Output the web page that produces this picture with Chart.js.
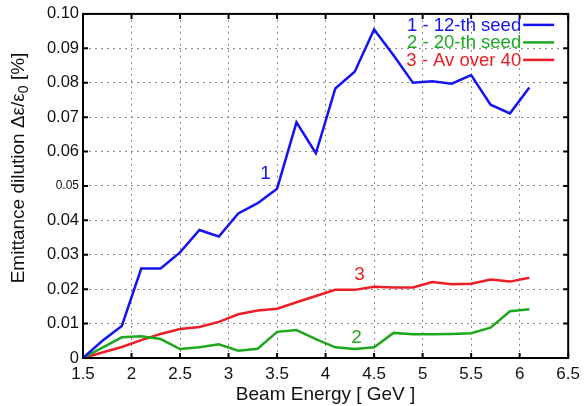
<!DOCTYPE html>
<html>
<head>
<meta charset="utf-8">
<script src="https://cdn.jsdelivr.net/npm/chart.js@4.4.1/dist/chart.umd.min.js"></script>
<style>
  html, body { margin: 0; padding: 0; background: #fff; }
  #wrap { width: 586px; height: 406px; }
</style>
</head>
<body>
<div id="wrap"><canvas id="myChart" width="586" height="406"></canvas></div>
<script>
// beam energy points [GeV]
const energy = [1.5, 1.7, 1.9, 2.1, 2.3, 2.5, 2.7, 2.9, 3.1, 3.3, 3.5, 3.7, 3.9, 4.1, 4.3, 4.5, 4.7, 4.9, 5.1, 5.3, 5.5, 5.7, 5.9, 6.1];
// emittance dilution [%]
const seed12 = [0, 0.005, 0.0093, 0.026, 0.026, 0.0307, 0.0372, 0.0353, 0.042, 0.045, 0.0492, 0.0685, 0.0595, 0.0783, 0.0832, 0.0955, 0.088, 0.0800, 0.0804, 0.0797, 0.0822, 0.0736, 0.0711, 0.0786];
const seed20 = [0, 0.003, 0.006, 0.0063, 0.0055, 0.0026, 0.0031, 0.004, 0.0021, 0.0027, 0.0076, 0.0081, 0.0055, 0.0031, 0.0026, 0.0031, 0.0073, 0.0069, 0.0069, 0.007, 0.0072, 0.0088, 0.0136, 0.0142];
const avg40 = [0, 0.0016, 0.0032, 0.0052, 0.007, 0.0084, 0.009, 0.0105, 0.0127, 0.0138, 0.0143, 0.0162, 0.018, 0.0198, 0.0198, 0.0207, 0.0205, 0.0205, 0.0221, 0.0214, 0.0216, 0.0228, 0.0222, 0.0233];

const seriesNames = ['1 - 12-th seed', '2 - 20-th seed', '3 - Av over 40'];
const seriesColors = ['#1414f0', '#1ea81e', '#ee1c24'];
const curveLabels = [['1', 3.38, 0.0535], ['2', 4.32, 0.0058], ['3', 4.35, 0.0241]];

const xTicks = [1.5, 2, 2.5, 3, 3.5, 4, 4.5, 5, 5.5, 6, 6.5];
const yTicks = [0, 0.01, 0.02, 0.03, 0.04, 0.05, 0.06, 0.07, 0.08, 0.09, 0.10];

const FONT = 'Arial, "Liberation Sans", sans-serif';

function toPoints(ys) {
    return energy.map((x, i) => ({x: x, y: ys[i]}));
}

// box, inner ticks, legend and curve labels
const decor = {
    id: 'decor',
    afterDatasetsDraw(chart) {
        const ctx = chart.ctx;
        const a = chart.chartArea;
        const xs = chart.scales.x, ys = chart.scales.y;
        ctx.save();
        ctx.strokeStyle = '#000';
        ctx.lineWidth = 2;
        ctx.strokeRect(a.left, a.top, a.right - a.left, a.bottom - a.top);
        ctx.beginPath();
        xTicks.forEach(v => {
            const px = xs.getPixelForValue(v);
            ctx.moveTo(px, a.bottom); ctx.lineTo(px, a.bottom - 5);
            ctx.moveTo(px, a.top); ctx.lineTo(px, a.top + 5);
        });
        yTicks.forEach(v => {
            const py = ys.getPixelForValue(v);
            ctx.moveTo(a.left, py); ctx.lineTo(a.left + 5, py);
            ctx.moveTo(a.right, py); ctx.lineTo(a.right - 5, py);
        });
        ctx.stroke();

        // legend
        ctx.font = '18.5px ' + FONT;
        ctx.textAlign = 'right';
        ctx.textBaseline = 'middle';
        seriesNames.forEach((name, i) => {
            const y = a.top + 11 + i * 17.5;
            ctx.fillStyle = seriesColors[i];
            ctx.fillText(name, a.right - 47, y + 1);
            ctx.strokeStyle = seriesColors[i];
            ctx.lineWidth = 2.5;
            ctx.beginPath();
            ctx.moveTo(a.right - 45, y);
            ctx.lineTo(a.right - 14, y);
            ctx.stroke();
        });

        // curve numbers
        ctx.font = '19px ' + FONT;
        ctx.textAlign = 'center';
        curveLabels.forEach((c, i) => {
            ctx.fillStyle = seriesColors[i];
            ctx.fillText(c[0], xs.getPixelForValue(c[1]), ys.getPixelForValue(c[2]));
        });

        // y axis title with subscript
        ctx.fillStyle = '#111';
        ctx.translate(19, 168);
        ctx.rotate(-Math.PI / 2);
        ctx.textAlign = 'left';
        ctx.textBaseline = 'middle';
        const big = '19px ' + FONT, small = '14px ' + FONT;
        const p1 = 'Emittance dilution \u0394\u03b5/\u03b5', p2 = '0', p3 = ' [%]';
        ctx.font = big; const w1 = ctx.measureText(p1).width, w3 = ctx.measureText(p3).width;
        ctx.font = small; const w2 = ctx.measureText(p2).width;
        let x0 = -(w1 + w2 + w3) / 2;
        ctx.font = big; ctx.fillText(p1, x0, 0);
        ctx.font = small; ctx.fillText(p2, x0 + w1, 5);
        ctx.font = big; ctx.fillText(p3, x0 + w1 + w2, 0);
        ctx.restore();
    }
};

document.addEventListener('DOMContentLoaded', () => {
    const data = [seed12, seed20, avg40];
    const ctx = document.querySelector('#myChart').getContext('2d');
    new Chart(ctx, {
        type: 'line',
        data: {
            datasets: data.map((ys, i) => ({
                label: seriesNames[i],
                data: toPoints(ys),
                borderColor: seriesColors[i],
                borderWidth: 2.5,
                pointRadius: 0,
                fill: false,
                tension: 0
            }))
        },
        options: {
            responsive: false,
            animation: false,
            layout: { padding: { top: 13, right: 15, left: 0, bottom: 0 } },
            plugins: { legend: { display: false }, tooltip: { enabled: false } },
            scales: {
                x: {
                    type: 'linear',
                    min: 1.5,
                    max: 6.5,
                    afterBuildTicks: s => { s.ticks = xTicks.map(v => ({value: v})); },
                    afterFit: s => { s.height = 48; },
                    grid: { color: '#888', lineWidth: 1, drawTicks: false },
                    border: { display: false, dash: [2, 4] },
                    ticks: {
                        color: '#111',
                        font: { family: FONT, size: 17 },
                        padding: 6,
                        maxRotation: 0,
                        callback: v => String(v)
                    },
                    title: {
                        display: true,
                        text: 'Beam Energy [ GeV ]',
                        color: '#111',
                        font: { family: FONT, size: 19 },
                        padding: { top: 0, bottom: 0 }
                    }
                },
                y: {
                    min: 0,
                    max: 0.1,
                    afterBuildTicks: s => { s.ticks = yTicks.map(v => ({value: v})); },
                    afterFit: s => { s.width = 83; },
                    grid: { color: '#888', lineWidth: 1, drawTicks: false },
                    border: { display: false, dash: [2, 4] },
                    ticks: {
                        color: '#111',
                        padding: 4,
                        font: c => ({ family: FONT, size: (c.tick && Math.abs(c.tick.value - 0.05) < 1e-9) ? 12 : 16.5 }),
                        callback: v => v === 0 ? '0' : v.toFixed(2)
                    }
                }
            }
        },
        plugins: [decor]
    });
});
</script>
</body>
</html>
